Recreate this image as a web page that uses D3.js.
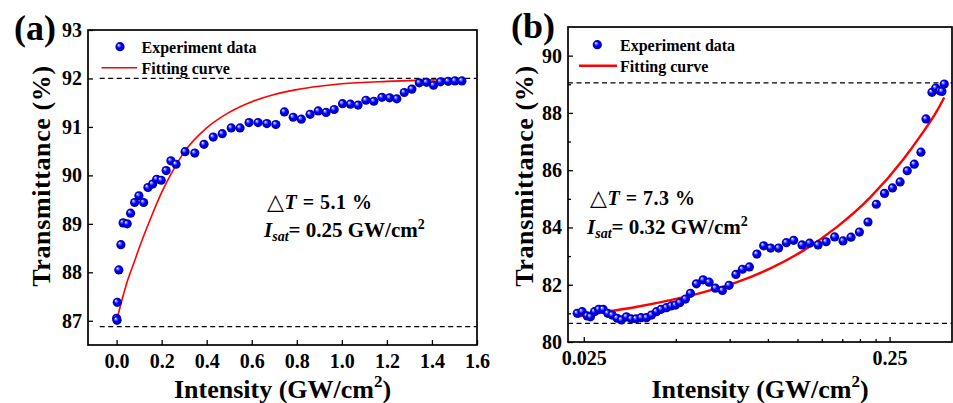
<!DOCTYPE html>
<html>
<head>
<meta charset="utf-8">
<script src="https://cdn.jsdelivr.net/npm/d3@7"></script>
<style>
  body { margin: 0; background: #fff; }
  svg { display: block; font-family: "Liberation Serif", "Times New Roman", serif; font-weight: bold; }
</style>
</head>
<body>
<script>
// ---- panel (a) data, linear intensity axis ----
const aIntensity = [0, 0.002, 0.003, 0.01, 0.019, 0.029, 0.047, 0.062, 0.08, 0.099, 0.12, 0.139, 0.16, 0.178, 0.198,
  0.22, 0.241, 0.264, 0.304, 0.347, 0.388, 0.429, 0.469, 0.509, 0.548, 0.588, 0.628, 0.667, 0.707, 0.745,
  0.784, 0.82, 0.859, 0.895, 0.93, 0.966, 1.003, 1.038, 1.072, 1.107, 1.142, 1.178, 1.212, 1.244, 1.277,
  1.311, 1.344, 1.376, 1.407, 1.438, 1.472, 1.502, 1.533];
const aTrans = [87.05, 87.01, 87.38, 88.05, 88.57, 89.02, 89.00, 89.22, 89.44, 89.58, 89.44, 89.75, 89.82, 89.92, 89.90,
  90.10, 90.30, 90.23, 90.49, 90.46, 90.64, 90.79, 90.86, 90.98, 90.98, 91.09, 91.09, 91.07, 91.05, 91.31,
  91.20, 91.16, 91.26, 91.33, 91.30, 91.36, 91.48, 91.47, 91.45, 91.55, 91.53, 91.61, 91.60, 91.58, 91.71,
  91.78, 91.91, 91.92, 91.86, 91.93, 91.94, 91.95, 91.95];
const aFitI = [0, 0.025, 0.05, 0.075, 0.1, 0.15, 0.2, 0.25, 0.3, 0.4, 0.5, 0.6, 0.7, 0.8, 0.9, 1.0, 1.2, 1.4, 1.53];
const aFitT = [87.0, 87.45, 87.85, 88.17, 88.5, 89.1, 89.65, 90.1, 90.48, 90.98, 91.3, 91.52, 91.67, 91.77, 91.84, 91.89, 91.94, 91.97, 91.98];
const aLevels = [92.0, 86.88];
const aLevelFrom = -0.075;
const aXTicks = [0, 0.2, 0.4, 0.6, 0.8, 1.0, 1.2, 1.4, 1.6];
const aYTicks = [87, 88, 89, 90, 91, 92, 93];

// ---- panel (b) data, log intensity axis ----
const bIntensity = [0.0238, 0.0247, 0.02565, 0.02629, 0.0271, 0.02798, 0.02893, 0.02995, 0.03096, 0.03214, 0.0332,
  0.03447, 0.03572, 0.03709, 0.03851, 0.04008, 0.04162, 0.04321, 0.04477, 0.04659, 0.04827, 0.04985, 0.05149,
  0.05375, 0.05581, 0.05838, 0.0614, 0.06424, 0.06736, 0.071, 0.07468, 0.0786, 0.08254, 0.087, 0.09203, 0.09687,
  0.1021, 0.1084, 0.1149, 0.1214, 0.1293, 0.1369, 0.1459, 0.155, 0.1653, 0.1761, 0.187, 0.1992, 0.2125, 0.2262,
  0.2406, 0.2555, 0.2706, 0.2856, 0.3011, 0.3166, 0.3288, 0.344, 0.3539, 0.3648, 0.3709, 0.3773];
const bTrans = [81.00, 81.06, 80.91, 80.88, 81.06, 81.14, 81.14, 81.00, 80.94, 80.83, 80.77,
  80.88, 80.81, 80.81, 80.85, 80.85, 80.94, 81.06, 81.14, 81.20, 81.26, 81.29, 81.37,
  81.50, 81.70, 82.03, 82.17, 82.09, 81.88, 81.80, 81.98, 82.36, 82.54, 82.62, 83.07, 83.36,
  83.28, 83.28, 83.47, 83.55, 83.39, 83.45, 83.39, 83.50, 83.67, 83.53, 83.66, 83.84, 84.19, 84.81,
  85.19, 85.38, 85.59, 85.98, 86.21, 86.63, 87.79, 88.72, 88.87, 88.77, 88.75, 89.01];
const bFitI = [0.0238, 0.02906, 0.03737, 0.04801, 0.06168, 0.07929, 0.1019, 0.1309, 0.1683, 0.2162, 0.2778, 0.315, 0.3572, 0.3773];
const bFitT = [80.88, 81.04, 81.23, 81.46, 81.74, 82.09, 82.57, 83.20, 84.02, 85.05, 86.39, 87.19, 88.07, 88.54];
const bLevels = [89.05, 80.65];
const bXTicks = [0.025, 0.25];
const bXMinor = [0.05, 0.075, 0.1, 0.125, 0.15, 0.175, 0.2, 0.225];
const bYTicks = [80, 82, 84, 86, 88, 90];
const bYMinor = [81, 83, 85, 87, 89];

const svg = d3.select("body").append("svg")
    .attr("width", 953)
    .attr("height", 403);

// shaded sphere for the data markers
const grad = svg.append("defs").append("radialGradient")
    .attr("id", "ball")
    .attr("cx", "50%").attr("cy", "50%").attr("r", "50%")
    .attr("fx", "32%").attr("fy", "30%");
grad.append("stop").attr("offset", "0%").attr("stop-color", "#ffffff");
grad.append("stop").attr("offset", "22%").attr("stop-color", "#8080ff");
grad.append("stop").attr("offset", "50%").attr("stop-color", "#0000ff");
grad.append("stop").attr("offset", "100%").attr("stop-color", "#0000a0");

function styleAxis(g) {
  g.select(".domain").remove();
  g.selectAll(".tick line").attr("stroke", "#000").attr("stroke-width", 1.3);
  g.selectAll("text")
    .attr("font-family", "Liberation Serif, serif")
    .attr("font-weight", "bold")
    .attr("font-size", 20)
    .attr("fill", "#000");
}

function panel(p) {
  const g = svg.append("g");
  const x = p.x, y = p.y;
  const [x0, x1] = x.range(), [y1, y0] = y.range();

  // dashed reference levels
  p.levels.forEach(v => {
    g.append("line")
      .attr("x1", x(p.levelFrom)).attr("x2", x1)
      .attr("y1", y(v)).attr("y2", y(v))
      .attr("stroke", "#000").attr("stroke-width", 1.3)
      .attr("stroke-dasharray", "5,3.5");
  });

  // fitting curve
  const pts = p.fitI.map((d, i) => [d, p.fitT[i]]);
  g.append("path")
    .attr("d", d3.line().x(d => x(d[0])).y(d => y(d[1])).curve(d3.curveMonotoneX)(pts))
    .attr("fill", "none").attr("stroke", "#ff0000").attr("stroke-width", p.fitWidth);

  // experiment data
  g.selectAll("circle.pt")
    .data(p.dataI.map((d, i) => [d, p.dataT[i]]))
    .enter().append("circle")
      .attr("class", "pt")
      .attr("cx", d => x(d[0]))
      .attr("cy", d => y(d[1]))
      .attr("r", 4.6)
      .attr("fill", "url(#ball)");

  // axes, ticks pointing inward
  const xa = g.append("g").attr("transform", `translate(0,${y1})`)
    .call(d3.axisBottom(x).tickValues(p.xTicks).tickSizeInner(-5).tickSizeOuter(0).tickPadding(9).tickFormat(p.xFormat));
  styleAxis(xa);
  if (p.xMinor) {
    const xm = g.append("g").attr("transform", `translate(0,${y1})`)
      .call(d3.axisBottom(x).tickValues(p.xMinor).tickSizeInner(-3).tickSizeOuter(0).tickFormat(""));
    styleAxis(xm);
  }
  const ya = g.append("g").attr("transform", `translate(${x0},0)`)
    .call(d3.axisLeft(y).tickValues(p.yTicks).tickSizeInner(-5).tickSizeOuter(0).tickPadding(6).tickFormat(d3.format("d")));
  styleAxis(ya);
  if (p.yMinor) {
    const ym = g.append("g").attr("transform", `translate(${x0},0)`)
      .call(d3.axisLeft(y).tickValues(p.yMinor).tickSizeInner(-3).tickSizeOuter(0).tickFormat(""));
    styleAxis(ym);
  }

  // frame
  g.append("rect")
    .attr("x", x0).attr("y", y0)
    .attr("width", x1 - x0).attr("height", y1 - y0)
    .attr("fill", "none").attr("stroke", "#000").attr("stroke-width", 1.7);

  // legend
  g.append("circle").attr("cx", p.leg[0]).attr("cy", p.leg[1]).attr("r", 4.6).attr("fill", "url(#ball)");
  g.append("text").attr("x", p.leg[2]).attr("y", p.leg[1] + 6.5)
    .attr("font-size", 16).text("Experiment data");
  g.append("line")
    .attr("x1", p.legLine[0]).attr("x2", p.legLine[1])
    .attr("y1", p.leg[1] + p.legGap).attr("y2", p.leg[1] + p.legGap)
    .attr("stroke", "#ff0000").attr("stroke-width", p.fitWidth);
  g.append("text").attr("x", p.leg[2]).attr("y", p.leg[1] + p.legGap + 6)
    .attr("font-size", 16).text("Fitting curve");

  // annotation
  const t1 = g.append("text").attr("x", p.note[0]).attr("y", p.note[1]).attr("font-size", 20).attr("letter-spacing", 0.5);
  t1.append("tspan").attr("font-family", "DejaVu Sans").attr("font-weight", "normal").attr("font-size", 22).text("\u25B3");
  t1.append("tspan").attr("font-style", "italic").text("T");
  t1.append("tspan").text(" = " + p.dT + " %");
  const t2 = g.append("text").attr("x", p.note[0] - 3).attr("y", p.note[1] + 28.5).attr("font-size", 21);
  t2.append("tspan").attr("font-style", "italic").text("I");
  t2.append("tspan").attr("font-style", "italic").attr("font-size", 14).attr("dy", 4).text("sat");
  t2.append("tspan").attr("dy", -4).text("= " + p.isat + " GW/cm");
  t2.append("tspan").attr("font-size", 14).attr("dy", -8).text("2");

  // axis titles
  const xt = g.append("text").attr("x", (x0 + x1) / 2 + p.xTitleShift).attr("y", 398)
    .attr("text-anchor", "middle").attr("font-size", 26);
  xt.append("tspan").text("Intensity (GW/cm");
  xt.append("tspan").attr("font-size", 17).attr("dy", -11).text("2");
  xt.append("tspan").attr("dy", 11).text(")");
  g.append("text")
    .attr("transform", `translate(${p.yTitleX},176) rotate(-90)`)
    .attr("text-anchor", "middle").attr("font-size", 26).attr("letter-spacing", 0.6)
    .text("Transmittance (%)");

  // panel letter
  g.append("text").attr("x", p.letter[0]).attr("y", p.letter[1]).attr("font-size", 36).text(p.label);
}

panel({
  x: d3.scaleLinear().domain([-0.127, 1.6]).range([88, 477]),
  y: d3.scaleLinear().domain([86.5, 93]).range([345, 30]),
  dataI: aIntensity, dataT: aTrans, fitI: aFitI, fitT: aFitT,
  levels: aLevels, levelFrom: aLevelFrom,
  xTicks: aXTicks, xFormat: d3.format(".1f"), yTicks: aYTicks,
  fitWidth: 1.6,
  leg: [120, 46.7, 141.5], legGap: 21, legLine: [101.5, 137],
  note: [267, 208.5], dT: "5.1", isat: "0.25",
  xTitleShift: 0, yTitleX: 50,
  letter: [14, 40], label: "(a)"
});

panel({
  x: d3.scaleLog().domain([0.0222, 0.4]).range([568, 952]),
  y: d3.scaleLinear().domain([80, 91]).range([342, 27]),
  dataI: bIntensity, dataT: bTrans, fitI: bFitI, fitT: bFitT,
  levels: bLevels, levelFrom: 0.0222,
  xTicks: bXTicks, xMinor: bXMinor, xFormat: d => String(d), yTicks: bYTicks, yMinor: bYMinor,
  fitWidth: 2.4,
  leg: [597.3, 44.7, 620], legGap: 21, legLine: [579, 617],
  note: [590, 205], dT: "7.3", isat: "0.32",
  xTitleShift: 0, yTitleX: 533,
  letter: [511, 38], label: "(b)"
});
</script>
</body>
</html>
